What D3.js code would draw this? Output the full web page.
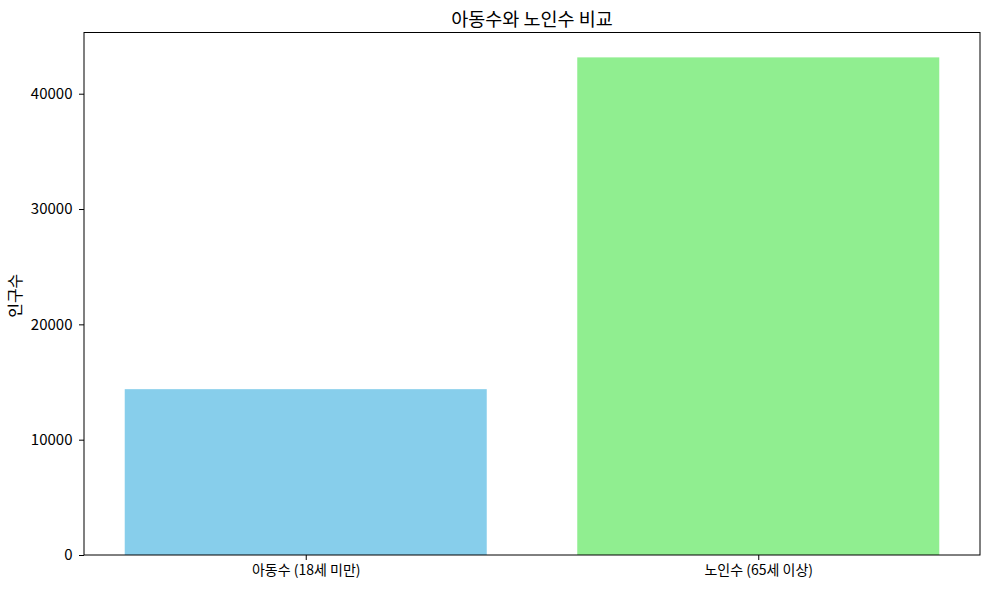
<!DOCTYPE html>
<html><head><meta charset="utf-8">
<script src="https://cdn.jsdelivr.net/npm/d3@7"></script>
<style>body{margin:0;background:#fff}svg{display:block}text{font-family:"Noto Sans CJK KR","Noto Sans",sans-serif;fill:#000}</style>
</head><body>
<script>
const categories = ["아동수 (18세 미만)", "노인수 (65세 이상)"];
const values = [14380, 43150];
const colors = ["#87CEEB", "#90EE90"];
const yTicks = [0, 10000, 20000, 30000, 40000];
const title = "아동수와 노인수 비교";
const yLabel = "인구수";

const W = 989, H = 589;
const m = {left: 84, right: 9, top: 32.5, bottom: 34};
const svg = d3.select("body").append("svg").attr("width", W).attr("height", H);
const iw = W - m.left - m.right, ih = H - m.top - m.bottom;
const g = svg.append("g").attr("transform", `translate(${m.left},${m.top})`);

const x = d3.scaleLinear().domain([-0.49, categories.length - 1 + 0.49]).range([0, iw]);
const y = d3.scaleLinear().domain([0, d3.max(values) * 1.05]).range([ih, 0]);
const bw = x(0.8) - x(0);

g.selectAll("rect.bar").data(values).join("rect")
  .attr("x", (d, i) => x(i) - bw / 2).attr("width", bw)
  .attr("y", d => y(d)).attr("height", d => ih - y(d))
  .attr("fill", (d, i) => colors[i]);

const yAxis = g.append("g").call(d3.axisLeft(y).tickValues(yTicks).tickFormat(d3.format("d")).tickSize(5).tickPadding(6.5));
const xAxis = g.append("g").attr("transform", `translate(0,${ih})`)
  .call(d3.axisBottom(x).tickValues(categories.map((c, i) => i)).tickFormat(i => categories[i]).tickSize(5).tickPadding(5));
yAxis.selectAll("text").style("font-size", "15px");
xAxis.selectAll("text").style("font-size", "14px");
[yAxis, xAxis].forEach(a => {
  a.select(".domain").remove();
  a.selectAll("line").attr("stroke", "#000").attr("stroke-width", 1);
});
g.append("rect").attr("x", 0).attr("y", 0).attr("width", iw).attr("height", ih)
  .attr("fill", "none").attr("stroke", "#000").attr("stroke-width", 1);

svg.append("text").attr("x", m.left + iw / 2).attr("y", 25.5).attr("text-anchor", "middle")
  .style("font-size", "18.5px").text(title);
svg.append("text").attr("transform", `translate(21,${m.top + ih / 2 + 2}) rotate(-90)`)
  .attr("text-anchor", "middle").style("font-size", "16px").text(yLabel);
</script>
</body></html>
